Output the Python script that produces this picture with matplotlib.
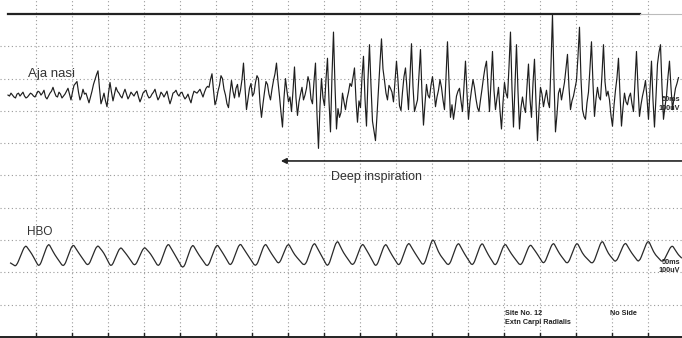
import matplotlib
matplotlib.use("Agg")
import matplotlib.pyplot as plt
from matplotlib.path import Path
from matplotlib.patches import PathPatch
import numpy as np

plt.rcParams['font.family'] = ['Liberation Sans', 'DejaVu Sans']

# time axis: 50 ms per division, amplitude: 100 uV per division
MS_PER_DIV = 50
UV_PER_DIV = 100
N_XDIV = 18
N_YDIV = 10

# Ala nasi EMG (uV around its baseline), sampled every DT ms from T0
EMG_T0 = 11.1
EMG_DT = 2.0833
emg_base = 749
emg_quiet_uv = [
    0, -3, 6, 0, -6, -9, 3, 6, -3, 3, 9, -3, -9, -6, 0, 6, 3, -3, -6, 3,
    12, 9, 0, 6, 15, -6, -12, -3, 6, 12, 24, 9, -3, -6, 9, 3, -9, -3, 3, 12,
    21, 3, -15, 9, 30, 36, 42, 9, -15, -3, 18, 3, 6, -9, -24, -6, 12, 33, 48, 63,
    75, 21, -27, -12, 6, -18, -36, 6, 39, 9, -18, 3, 24, 12, 6, -3, -9, 6, 18, 3,
    -12, -3, 9, 3, -3, 6, 12, -6, -21, -9, 6, 12, 15, 0, -9, -6, 3, 9, 18, 0,
    -15, -6, 9, 3, -6, 3, 12, -9, -27, -12, 6, 9, 15, 3, -3, 6, 9, -3, -12, -6,
    3, -12, -24, -3, 12, 9, 6, 12, 18, 6, -6, 9, 21, 27, 24, 48, 66, 15, -30,
]
emg_deep_uv = [
    -15, 12, 30, 60, 51, 18, 0, -27, -39, 6, 45, 12, -9, 21, 33, -6, 15, 48, 99, 24,
    -45, -12, 21, 36, -3, 6, 39, 60, 51, -24, -69, -27, 9, 42, 33, 3, -15, 18, 45, 66,
    99, 42, -3, -54, -99, -9, 51, 12, -21, -6, -51, 12, 87, -9, -63, -21, 3, 24, -15, 0,
    21, 57, 39, -12, -27, 42, 99, -60, -165, -33, 51, -9, -33, 48, 114, -18, -114, 60, 195, 30,
    -105, -42, -69, -54, 6, -21, -45, -12, 9, 36, 27, 54, 84, -15, -84, -18, -39, 54, 120, -12,
    -96, 48, 156, 30, -81, -111, -141, -63, 21, 99, 174, 81, 45, 6, -15, 30, 21, 9, -21, 42,
    105, 45, -33, -48, 9, 57, 84, 18, -45, 54, 159, 27, -51, -33, -15, 63, 141, 6, -93, -27,
    33, 0, -9, 30, 57, 18, -36, -6, 15, 48, 24, -15, -45, 54, 165, 42, -69, -30, -75, -42,
    -3, 12, 21, -18, -51, 27, 105, 6, -75, -21, 15, 48, 24, -12, -39, -51, -15, 18, 54, 84,
    105, 24, -51, 42, 135, 15, -45, -9, 24, -48, -105, -24, 39, 6, -9, 87, 195, 21, -99, 33,
    156, 12, -105, -39, -6, -36, -54, 27, 96, -12, -69, 36, 111, -21, -141, -45, 24, 3, -36, -9,
    15, -21, -39, 93, 249, 48, -114, -60, 6, 21, -15, 12, 39, 84, 126, 24, -45, -18, -3, 21,
    45, 120, 210, 51, -45, -66, -75, -24, 9, 84, 165, 36, -66, -12, 24, -6, -15, 63, 156, 42,
    -3, 12, -15, -63, -96, -33, 15, 54, 114, 3, -96, -39, 6, -21, -30, -6, 6, -27, -51, 45,
    135, 24, -66, -30, -3, 18, 45, -9, -75, 18, 105, -15, -99, -6, 96, 132, 156, 27, -75, -36,
    -3, 57, 105, 24, -45, -9, 21, 36, 54,
]

# HBO trace: per-cycle trough, peak and shoulder (ms, uV around baseline)
hbo_base = 252
hbo_start = (14, -22)
hbo_end = (947, -8)
hbo_peak_t = [35, 67, 101, 135, 167, 200, 233, 267, 301, 333, 368, 400, 436, 468,
              503, 535, 567, 601, 636, 669, 701, 736, 768, 801, 836, 868, 900, 933]
hbo_peak_v = [34, 40, 37, 34, 28, 28, 40, 37, 37, 40, 40, 40, 43, 50,
              40, 40, 43, 56, 43, 43, 40, 37, 43, 43, 50, 43, 50, 34]
hbo_trough_v = [-34, -37, -37, -34, -37, -34, -37, -43, -37, -34, -37, -28, -34, -37,
                -34, -37, -34, -34, -34, -34, -34, -34, -28, -28, -28, -22, -22, -22]
hbo_shoulder_v = [6, 3, 6, 9, 3, 6, 6, 3, 6, 9, 6, 3, 6, 9,
                  6, 3, 9, 6, 6, 3, 6, 9, 6, 3, 6, 9, 6, 3]
RISE_MS = 12.5
SHOULDER_MS = 9

fig = plt.figure(figsize=(6.82, 3.38), dpi=100)
ax = fig.add_axes([0, 0, 1, 1])
px_x = MS_PER_DIV / 36.0
px_y = UV_PER_DIV / 32.3
ax.set_xlim(0, 682 * px_x)
ax.set_ylim(-1 * px_y, 337 * px_y)
ax.axis('off')

grid_kw = dict(color='#9a9a9a', lw=0.8, ls=(0, (1, 2.4)), zorder=1)
for k in range(1, N_XDIV + 1):
    ax.axvline(k * MS_PER_DIV, **grid_kw)
for k in range(1, N_YDIV):
    ax.axhline(k * UV_PER_DIV, **grid_kw)

# frame lines of the record
ax.plot([11, 889], [N_YDIV * UV_PER_DIV] * 2, color='#222222', lw=1.6, zorder=2)
ax.plot([889, 947], [N_YDIV * UV_PER_DIV] * 2, color='#bbbbbb', lw=0.8, zorder=2)
ax.plot([0, 947], [0, 0], color='#222222', lw=1.4, zorder=2)
for k in range(1, N_XDIV + 1):
    ax.plot([k * MS_PER_DIV] * 2, [0, 12], color='#222222', lw=1.0, zorder=2)

# EMG
emg_uv = emg_quiet_uv + emg_deep_uv
emg_t = EMG_T0 + EMG_DT * np.arange(len(emg_uv))
ax.plot(emg_t, emg_base + np.array(emg_uv), color='#1e1e1e', lw=0.85, zorder=3)

# HBO, polyline through the read points with slightly rounded corners
pts = [hbo_start]
for tp, vp, vt, vs in zip(hbo_peak_t, hbo_peak_v, hbo_trough_v, hbo_shoulder_v):
    pts += [(tp - RISE_MS, vt), (tp, vp), (tp + SHOULDER_MS, vs)]
pts.append(hbo_end)
pts = np.array([(t, hbo_base + v) for t, v in pts])
ROUND = 0.25
verts = [pts[0]]
codes = [Path.MOVETO]
for i in range(1, len(pts) - 1):
    a = pts[i] + ROUND * (pts[i - 1] - pts[i])
    b = pts[i] + ROUND * (pts[i + 1] - pts[i])
    verts += [a, pts[i], b]
    codes += [Path.LINETO, Path.CURVE3, Path.CURVE3]
verts.append(pts[-1])
codes.append(Path.LINETO)
ax.add_patch(PathPatch(Path(verts, codes), fill=False, edgecolor='#2a2a2a', lw=0.9, zorder=3))

# labels
ax.text(39, 814, 'Aja nasi', fontsize=9.5, color='#333333', va='center')
ax.text(37, 326, 'HBO', fontsize=8.5, color='#333333', va='center')
ax.text(523, 495, 'Deep inspiration', fontsize=9, color='#333333', ha='center', va='center')
ax.annotate('', xy=(390, 545), xytext=(947, 545),
            arrowprops=dict(arrowstyle='-|>', color='#222222', lw=1.2,
                            mutation_scale=8, shrinkA=0, shrinkB=0))

small = dict(fontsize=5.2, color='#222222', fontweight='bold')
ax.text(945, 734, '50ms', **small, ha='right', va='center')
ax.text(945, 706, '100uV', **small, ha='right', va='center')
ax.text(945, 230, '50ms', **small, ha='right', va='center')
ax.text(945, 206, '100uV', **small, ha='right', va='center')
ax.text(701, 74, 'Site No. 12', **small, va='center')
ax.text(701, 46, 'Extn Carpi Radialis', **small, va='center')
ax.text(847, 74, 'No Side', **small, va='center')

fig.savefig('out.png', dpi=100)
